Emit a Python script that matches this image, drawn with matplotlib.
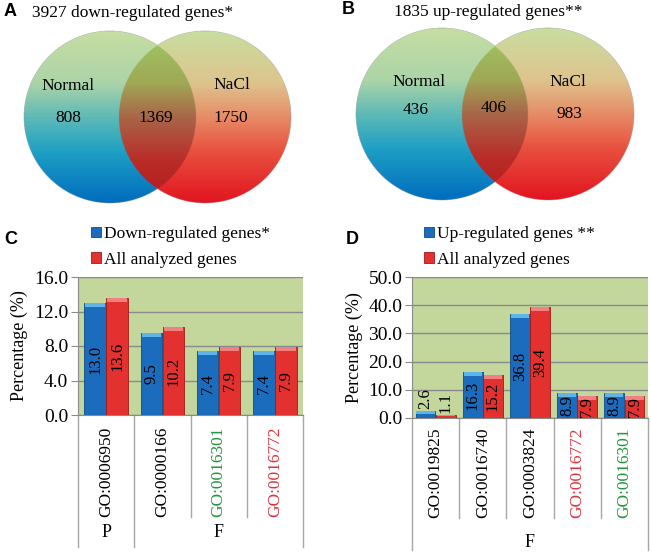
import numpy as np
import matplotlib.pyplot as plt
from matplotlib.transforms import blended_transform_factory

W, H = 651, 555

# Venn data
venn_sets = ['Normal', 'NaCl']
venn_a_title = '3927 down-regulated genes*'
venn_a_counts = [808, 1369, 1750]  # Normal only, both, NaCl only
venn_b_title = '1835 up-regulated genes**'
venn_b_counts = [436, 406, 983]

# GO bar data
c_terms = ['GO:0006950', 'GO:0000166', 'GO:0016301', 'GO:0016772']
c_down = [13.0, 9.5, 7.4, 7.4]
c_all = [13.6, 10.2, 7.9, 7.9]
c_groups = [('P', 0, 0), ('F', 1, 3)]
c_series = ['Down-regulated genes*', 'All analyzed genes']

d_terms = ['GO:0019825', 'GO:0016740', 'GO:0003824', 'GO:0016772', 'GO:0016301']
d_up = [2.6, 16.3, 36.8, 8.9, 8.9]
d_all = [1.1, 15.2, 39.4, 7.9, 7.9]
d_groups = [('F', 0, 4)]
d_series = ['Up-regulated genes **', 'All analyzed genes']

term_colors = {'GO:0016301': '#23963c', 'GO:0016772': '#e3323c'}

plt.rcParams['font.family'] = 'Liberation Serif'


def px(x0, y0, x1, y1):
    # pixel box (top-left origin) -> figure rect
    return [x0 / W, 1 - y1 / H, (x1 - x0) / W, (y1 - y0) / H]


# gradient stops (t from top of circle to bottom)
stops_t = [0.0, 0.3, 0.5, 0.7, 1.0]
left_cols = np.array([(198, 222, 162), (172, 212, 168), (95, 186, 182), (30, 160, 196), (0, 108, 190)]) / 255
right_cols = np.array([(200, 222, 160), (222, 196, 142), (230, 140, 102), (232, 80, 62), (225, 20, 32)]) / 255
both_t = [0.0, 0.3, 0.5, 0.75, 1.0]
both_cols = np.array([(158, 202, 100), (160, 168, 86), (168, 102, 72), (185, 45, 40), (180, 25, 32)]) / 255


def grad(t, ts, cols):
    return np.stack([np.interp(t, ts, cols[:, k]) for k in range(3)], axis=-1)


def venn(ax, box, c1, c2, cy, r, title, counts, pos):
    x0, x1, y0, y1 = box
    ax.axis('off')
    s = 1 / 3
    xs = np.arange(x0, x1, s) + s / 2
    ys = np.arange(y0, y1, s) + s / 2
    X, Y = np.meshgrid(xs, ys)
    a1 = np.clip((r - np.hypot(X - c1, Y - cy)) / s + 0.5, 0, 1)
    a2 = np.clip((r - np.hypot(X - c2, Y - cy)) / s + 0.5, 0, 1)
    t = np.clip((Y - (cy - r)) / (2 * r), 0, 1)
    g1 = grad(t, stops_t, left_cols)
    g2 = grad(t, stops_t, right_cols)
    g12 = grad(t, both_t, both_cols)
    w1 = (a1 * (1 - a2))[..., None]
    w2 = (a2 * (1 - a1))[..., None]
    w12 = (a1 * a2)[..., None]
    alpha = w1 + w2 + w12
    rgb = (w1 * g1 + w2 * g2 + w12 * g12) / np.maximum(alpha, 1e-6)
    img = np.concatenate([rgb, alpha], axis=-1)
    ax.imshow(img, extent=(x0, x1, y1, y0), origin='upper', interpolation='bilinear')
    ax.set_xlim(x0, x1)
    ax.set_ylim(y1, y0)
    ax.text(*pos['title'], title, ha='center', va='center', fontsize=12.5)
    ax.text(*pos['n1'], venn_sets[0], ha='center', va='center', fontsize=12.5)
    ax.text(*pos['n2'], venn_sets[1], ha='center', va='center', fontsize=12.5)
    for key, v in zip(['v1', 'v12', 'v2'], counts):
        ax.text(*pos[key], str(v), ha='center', va='center', fontsize=12.5)


fig = plt.figure(figsize=(W / 100, H / 100), dpi=100)

axA = fig.add_axes(px(0, 0, 325, 215))
venn(axA, (0, 325, 0, 215), 110, 205, 117, 86, venn_a_title, venn_a_counts,
     {'title': (133, 13), 'n1': (68, 86), 'n2': (232, 85),
      'v1': (68, 118), 'v12': (156, 118), 'v2': (231, 118)})

axB = fig.add_axes(px(325, 0, 651, 215))
venn(axB, (325, 651, 0, 215), 442, 548, 114, 86, venn_b_title, venn_b_counts,
     {'title': (488, 12), 'n1': (419, 82), 'n2': (568, 82),
      'v1': (416, 110), 'v12': (494, 108), 'v2': (569, 114)})

blue, blue_cap, blue_edge = '#1b6cbc', '#5fb4ea', '#0f4a85'
red, red_cap, red_edge = '#e2312f', '#f38080', '#a01818'


def bars(ax, terms, s1, s2, names, ymax, ystep, width, off, ax_px_h,
         short_end, long_end, tick_top, group_y, groups, leg_anchor):
    x = np.arange(len(terms))
    ax.set_facecolor('#c3d69b')
    ax.set_xlim(-0.5, len(terms) - 0.5)
    ax.set_ylim(0, ymax)
    yt = np.arange(0, ymax + ystep / 2, ystep)
    ax.set_yticks(yt)
    ax.set_yticklabels(['%.1f' % v for v in yt], fontsize=14)
    ax.yaxis.grid(True, color='#8a8a8a', lw=1)
    ax.set_axisbelow(True)
    ax.set_xticks([])
    for sp in ['top', 'right']:
        ax.spines[sp].set_visible(False)
    for sp in ['left', 'bottom']:
        ax.spines[sp].set_color('#8a8a8a')
    ax.tick_params(axis='y', length=5, color='#8a8a8a', pad=2)
    ax.set_ylabel('Percentage (%)', fontsize=13, labelpad=4)
    unit_px = ax_px_h / ymax
    cap = 4 / unit_px
    hs = []
    for vals, dx, fc, cc, ec in [(s1, -off, blue, blue_cap, blue_edge), (s2, off, red, red_cap, red_edge)]:
        b = ax.bar(x + dx, vals, width, color=fc, edgecolor=ec, linewidth=0.6, zorder=3)
        hs.append(b)
        caps = [min(cap, v * 0.5) for v in vals]
        ax.bar(x + dx, caps, width * 0.92, bottom=np.array(vals) - np.array(caps),
               color=cc, linewidth=0, zorder=4)
        for xi, v in zip(x + dx, vals):
            if v * unit_px > 20:
                ax.text(xi, v / 2, '%.1f' % v, rotation=90, ha='center', va='center',
                        fontsize=12, zorder=5)
            else:
                ax.text(xi, v + 1.5 / unit_px, '%.1f' % v, rotation=90, ha='center',
                        va='bottom', fontsize=12, zorder=5)
    tr = blended_transform_factory(ax.transData, ax.transAxes)
    for i, term in enumerate(terms):
        ax.text(i, tick_top, term, rotation=90, ha='center', va='top', fontsize=12.5,
                color=term_colors.get(term, 'black'), transform=tr)
    edges = set()
    for _, a, b in groups:
        edges.add(a - 0.5)
        edges.add(b + 0.5)
    for e in np.arange(-0.5, len(terms), 1.0):
        end = long_end if e in edges else short_end
        ax.plot([e, e], [0, end], color='#a6a6a6', lw=1, transform=tr, clip_on=False)
    for name, a, b in groups:
        ax.text((a + b) / 2, group_y, name, ha='center', va='center', fontsize=13, transform=tr)
    ax.legend(hs, names, loc='upper left', bbox_to_anchor=leg_anchor,
              bbox_transform=fig.transFigure, frameon=False, fontsize=12.5,
              handlelength=0.55, handleheight=0.55, handletextpad=0.2,
              labelspacing=0.55, borderpad=0, borderaxespad=0)


axC = fig.add_axes(px(78, 277, 303, 415))
bars(axC, c_terms, c_down, c_all, c_series, 16, 4, 0.38, 0.195, 138,
     -0.74, -0.957, -0.085, -0.85, c_groups, (91 / W, 1 - 226 / H))

axD = fig.add_axes(px(412, 277, 648, 418))
bars(axD, d_terms, d_up, d_all, d_series, 50, 10, 0.42, 0.215, 141,
     -0.71, -0.936, -0.065, -0.88, d_groups, (424 / W, 1 - 226 / H))

for lab, xx, yy in [('A', 4, 12), ('B', 342, 10), ('C', 4, 239), ('D', 346, 239)]:
    fig.text(xx / W, 1 - yy / H, lab, fontsize=13, fontweight='bold',
             family='Liberation Sans', va='center', ha='left')

fig.savefig('out.png', dpi=100)
